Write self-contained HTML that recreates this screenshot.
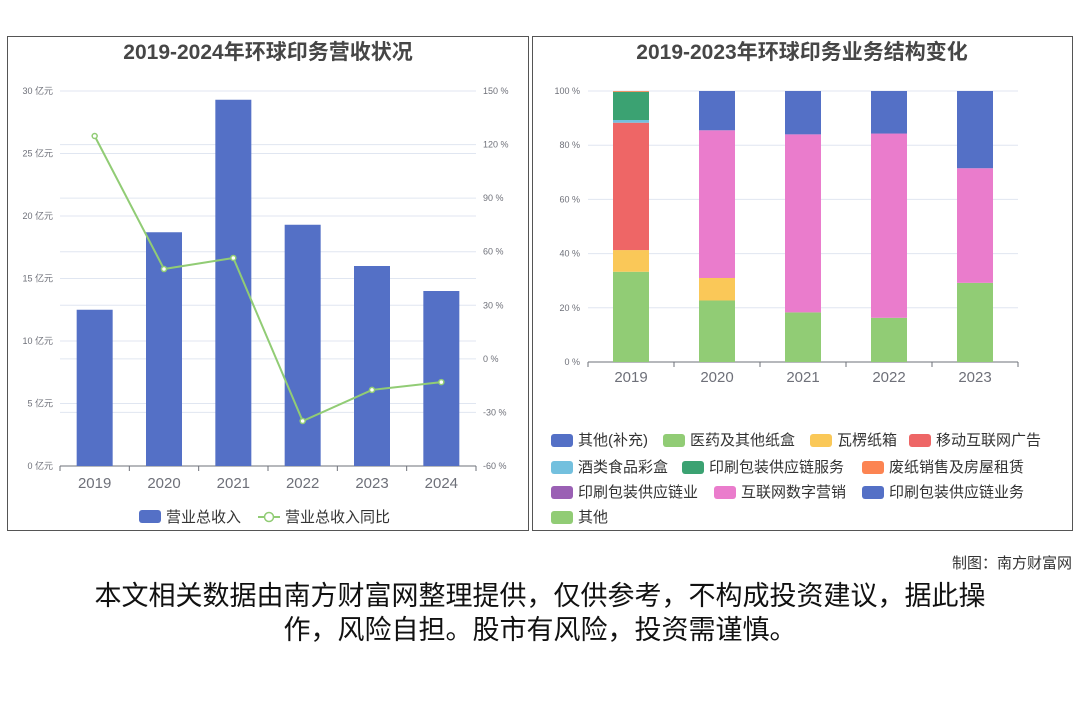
<!DOCTYPE html>
<html><head><meta charset="utf-8"><style>
body{margin:0;width:1080px;height:720px;background:#fff;font-family:"Liberation Sans","Noto Sans CJK SC",sans-serif;overflow:hidden}
.panel{position:absolute;border:1px solid #555;box-sizing:border-box;background:#fff}
svg text{font-family:"Liberation Sans","Noto Sans CJK SC",sans-serif}
</style></head><body>
<div class="panel" style="left:7px;top:36px;width:522px;height:495px"></div>
<div class="panel" style="left:532px;top:36px;width:541px;height:495px"></div>
<svg id="s" width="1080" height="720" style="position:absolute;left:0;top:0"></svg>
<div style="position:absolute;right:8px;top:552px;font-size:15px;color:#333">制图：南方财富网</div>
<div style="position:absolute;left:40px;width:1000px;top:579px;font-size:27px;line-height:34px;color:#111;text-align:center">本文相关数据由南方财富网整理提供，仅供参考，不构成投资建议，据此操<br>作，风险自担。股市有风险，投资需谨慎。</div>
<script>
const years1=['2019','2020','2021','2022','2023','2024'];
const revenue=[12.5,18.7,29.3,19.3,16.0,14.0];
const growth=[124.8,50.3,56.5,-34.8,-17.4,-13];
const leftTicks=[0,5,10,15,20,25,30];
const rightTicks=[-60,-30,0,30,60,90,120,150];
const years2=['2019','2020','2021','2022','2023'];
const seriesNames=['其他(补充)','医药及其他纸盒','瓦楞纸箱','移动互联网广告','酒类食品彩盒','印刷包装供应链服务','废纸销售及房屋租赁','印刷包装供应链业','互联网数字营销','印刷包装供应链业务','其他'];
const seriesColors=['#5470c6','#91cc75','#fac858','#ee6666','#73c0de','#3ba272','#fc8452','#9a60b4','#ea7ccc','#5470c6','#91cc75'];
const s_other2=[0,0,0,0,0];
const s_med=[33.3,0,0,0,0];
const s_corr=[8,8.3,0,0,0];
const s_mob=[47,0,0,0,0];
const s_wine=[1,0,0,0,0];
const s_svc=[10.4,0,0,0,0];
const s_waste=[0.3,0,0,0,0];
const s_chain=[0,0,0,0,0];
const s_net=[0,54.5,65.7,68,42.3];
const s_biz=[0,14.5,16,15.7,28.5];
const s_other=[0,22.7,18.3,16.3,29.2];
const pctTicks=[0,20,40,60,80,100];

const svg=document.getElementById('s');const NS='http://www.w3.org/2000/svg';
function el(t,a,txt){const e=document.createElementNS(NS,t);for(const k in a)e.setAttribute(k,a[k]);if(txt!==undefined)e.textContent=txt;svg.appendChild(e);return e;}
let t=el('text',{x:268,y:59,'text-anchor':'middle','font-size':21,'font-weight':'bold',fill:'#464646'},'2019-2024年环球印务营收状况');


t=el('text',{x:802,y:59,'text-anchor':'middle','font-size':21,'font-weight':'bold',fill:'#464646'},'2019-2023年环球印务业务结构变化');


const X0=60,X1=476,Y0=466,Y1=91;
const yL=v=>Y0-(v/30)*(Y0-Y1);
const yR=v=>Y0-((v+60)/210)*(Y0-Y1);
const bw=(X1-X0)/years1.length;
leftTicks.forEach(v=>{el('line',{x1:X0,x2:X1,y1:yL(v),y2:yL(v),stroke:'#e0e6f1'});
 const e=el('text',{x:53,y:yL(v)+3,'text-anchor':'end','font-size':9,fill:'#6e7079'},v+' 亿元');
 
 });
rightTicks.forEach(v=>{el('line',{x1:X0,x2:X1,y1:yR(v),y2:yR(v),stroke:'#e0e6f1'});
 const e=el('text',{x:483,y:yR(v)+3,'font-size':9,fill:'#6e7079'},v+' %');
 
 });
el('line',{x1:X0,x2:X1,y1:Y0,y2:Y0,stroke:'#6e7079'});
years1.forEach((y,i)=>{const cx=X0+bw*(i+.5);
 el('line',{x1:X0+bw*i,x2:X0+bw*i,y1:Y0,y2:Y0+5,stroke:'#6e7079'});
 const b=el('rect',{x:cx-18,y:yL(revenue[i]),width:36,height:Y0-yL(revenue[i]),fill:'#5470c6'});
 
 
 const l=el('text',{x:cx,y:488,'text-anchor':'middle','font-size':15,fill:'#6e7079'},y);
 
 });
el('line',{x1:X1,x2:X1,y1:Y0,y2:Y0+5,stroke:'#6e7079'});
const pts=growth.map((g,i)=>[X0+bw*(i+.5),yR(g)]);
const pl=el('polyline',{points:pts.map(p=>p.join(',')).join(' '),fill:'none',stroke:'#91cc75','stroke-width':2});


pts.forEach(p=>{const c=el('circle',{cx:p[0],cy:p[1],r:2.5,fill:'#fff',stroke:'#91cc75','stroke-width':1.5});
 
 });
el('rect',{x:139,y:510,width:22,height:13,rx:3,fill:'#5470c6'});
t=el('text',{x:166,y:522,'font-size':15,fill:'#333'},'营业总收入');


el('line',{x1:258,x2:280,y1:517,y2:517,stroke:'#91cc75','stroke-width':2});
el('circle',{cx:269,cy:517,r:4.5,fill:'#fff',stroke:'#91cc75','stroke-width':1.5});
t=el('text',{x:285,y:522,'font-size':15,fill:'#333'},'营业总收入同比');


const RX0=588,RX1=1018,RY0=362,RY1=91;
const yP=v=>RY0-(v/100)*(RY0-RY1);
const rbw=(RX1-RX0)/years2.length;
pctTicks.forEach(v=>{el('line',{x1:RX0,x2:RX1,y1:yP(v),y2:yP(v),stroke:'#e0e6f1'});
 const e=el('text',{x:580,y:yP(v)+3,'text-anchor':'end','font-size':9,fill:'#6e7079'},v+' %');
 
 });
el('line',{x1:RX0,x2:RX1,y1:RY0,y2:RY0,stroke:'#6e7079'});
const stackOrder=[[s_med,1],[s_other,10],[s_corr,2],[s_mob,3],[s_net,8],[s_wine,4],[s_svc,5],[s_waste,6],[s_chain,7],[s_biz,9],[s_other2,0]];
years2.forEach((y,i)=>{const cx=RX0+rbw*(i+.5);let acc=0;
 el('line',{x1:RX0+rbw*i,x2:RX0+rbw*i,y1:RY0,y2:RY0+5,stroke:'#6e7079'});
 stackOrder.forEach(([arr,ci])=>{const v=arr[i];if(!v)return;
  const r=el('rect',{x:cx-18,y:yP(acc+v),width:36,height:yP(acc)-yP(acc+v),fill:seriesColors[ci]});
  
  
  acc+=v;});
 const l=el('text',{x:cx,y:382,'text-anchor':'middle','font-size':15,fill:'#6e7079'},y);
 
 });
el('line',{x1:RX1,x2:RX1,y1:RY0,y2:RY0+5,stroke:'#6e7079'});
const ly=[440,467,492,517];
const rows=[[0,1,2,3],[4,5,6],[7,8,9],[10]];
const lxs=[[551,663,810,909],[551,682,862],[551,714,862],[551]];
rows.forEach((r,ri)=>r.forEach((si,k)=>{const x=lxs[ri][k],y=ly[ri];
 el('rect',{x:x,y:y-6,width:22,height:13,rx:3,fill:seriesColors[si]});
 const e=el('text',{x:x+27,y:y+5,'font-size':15,fill:'#333'},seriesNames[si]);
 
 }));
</script>
</body></html>
